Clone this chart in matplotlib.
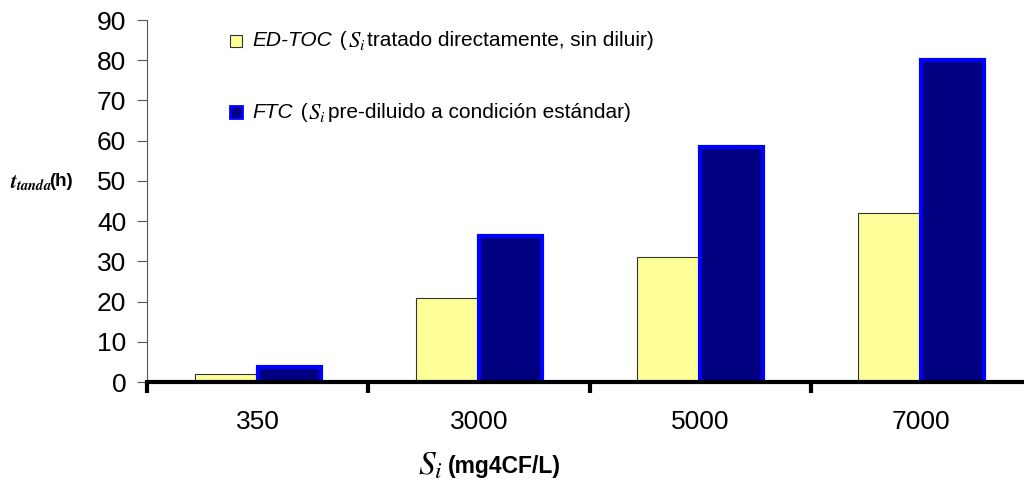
import matplotlib
matplotlib.use("Agg")
import matplotlib.pyplot as plt
import numpy as np

plt.rcParams["font.family"] = ["Liberation Sans", "DejaVu Sans"]
plt.rcParams["mathtext.fontset"] = "stix"

categories = ["350", "3000", "5000", "7000"]
ed_toc = [2.0, 21.0, 31.2, 42.0]
ftc = [3.8, 36.3, 58.5, 80.0]

fig = plt.figure(figsize=(10.24, 4.87), dpi=100)
ax = fig.add_axes([147 / 1024, 1 - 382 / 487, (1032 - 147) / 1024, (382 - 20) / 487])

x = np.arange(len(categories))
w = 0.285
ax.bar(x - w / 2, ed_toc, w, color="#FFFF99", edgecolor="#333333", linewidth=0.8, zorder=2)
ax.bar(x + w / 2, ftc, w, color="#000080", edgecolor="#0000FF", linewidth=3, zorder=2)

ax.set_xlim(-0.5, len(categories) - 0.5)
ax.set_ylim(0, 90)
ax.set_yticks(range(0, 91, 10))
ax.tick_params(axis="y", labelsize=19, length=7, width=0.8, color="#555555", pad=8)
ax.set_xticks(x)
ax.set_xticklabels(categories, fontsize=19)
ax.tick_params(axis="x", length=0, pad=20)
ax.set_xticks(np.arange(-0.5, len(categories)), minor=True)
ax.tick_params(axis="x", which="minor", length=8, width=3, color="black", direction="out")

for s in ["top", "right"]:
    ax.spines[s].set_visible(False)
ax.spines["left"].set_color("#555555")
ax.spines["left"].set_linewidth(0.8)
ax.spines["bottom"].set_linewidth(3)
ax.spines["bottom"].set_zorder(3)

# y label, beside the 50 tick
fig.text(10 / 1024, 1 - 183 / 487, r"$\mathbfit{t}_{\mathbfit{tanda}}$", fontsize=15,
         va="center", ha="left")
fig.text(73 / 1024, 1 - 181 / 487, "(h)", fontsize=13.5, va="center", ha="right",
         fontweight="bold")

# x label
fig.text(443 / 1024, 1 - 466 / 487, r"$\mathit{S}_{\mathit{i}}$", fontsize=24, va="center",
         ha="right")
fig.text(448 / 1024, 1 - 467 / 487, "(mg4CF/L)", fontsize=16.5, va="center", ha="left",
         fontweight="bold")

# legend
leg_items = [
    ("#FFFF99", "#333333", 0.8, "ED-TOC", "tratado directamente, sin diluir)", 41),
    ("#000080", "#0000FF", 2.0, "FTC", "pre-diluido a condición estándar)", 112),
]
for fc, ec, lw, name, rest, ypx in leg_items:
    yy = 1 - ypx / 487
    fig.patches.append(plt.Rectangle((230 / 1024, yy - 6 / 487), 12 / 1024, 12 / 487,
                                     facecolor=fc, edgecolor=ec, linewidth=lw,
                                     transform=fig.transFigure, figure=fig))
    t = fig.text(252 / 1024, yy, name, fontsize=15, style="italic", va="center", ha="left")
    fig.canvas.draw()
    bb = t.get_window_extent()
    t2 = fig.text(bb.x1 / 1024 + 0.002, yy, " (", fontsize=15, va="center", ha="left")
    bb = t2.get_window_extent()
    t3 = fig.text(bb.x1 / 1024 + 0.001, yy, r"$S_i$", fontsize=16.5, va="center", ha="left")
    bb = t3.get_window_extent()
    fig.text(bb.x1 / 1024 + 0.002, yy, rest, fontsize=15, va="center", ha="left")

fig.savefig("out.png", dpi=100)
